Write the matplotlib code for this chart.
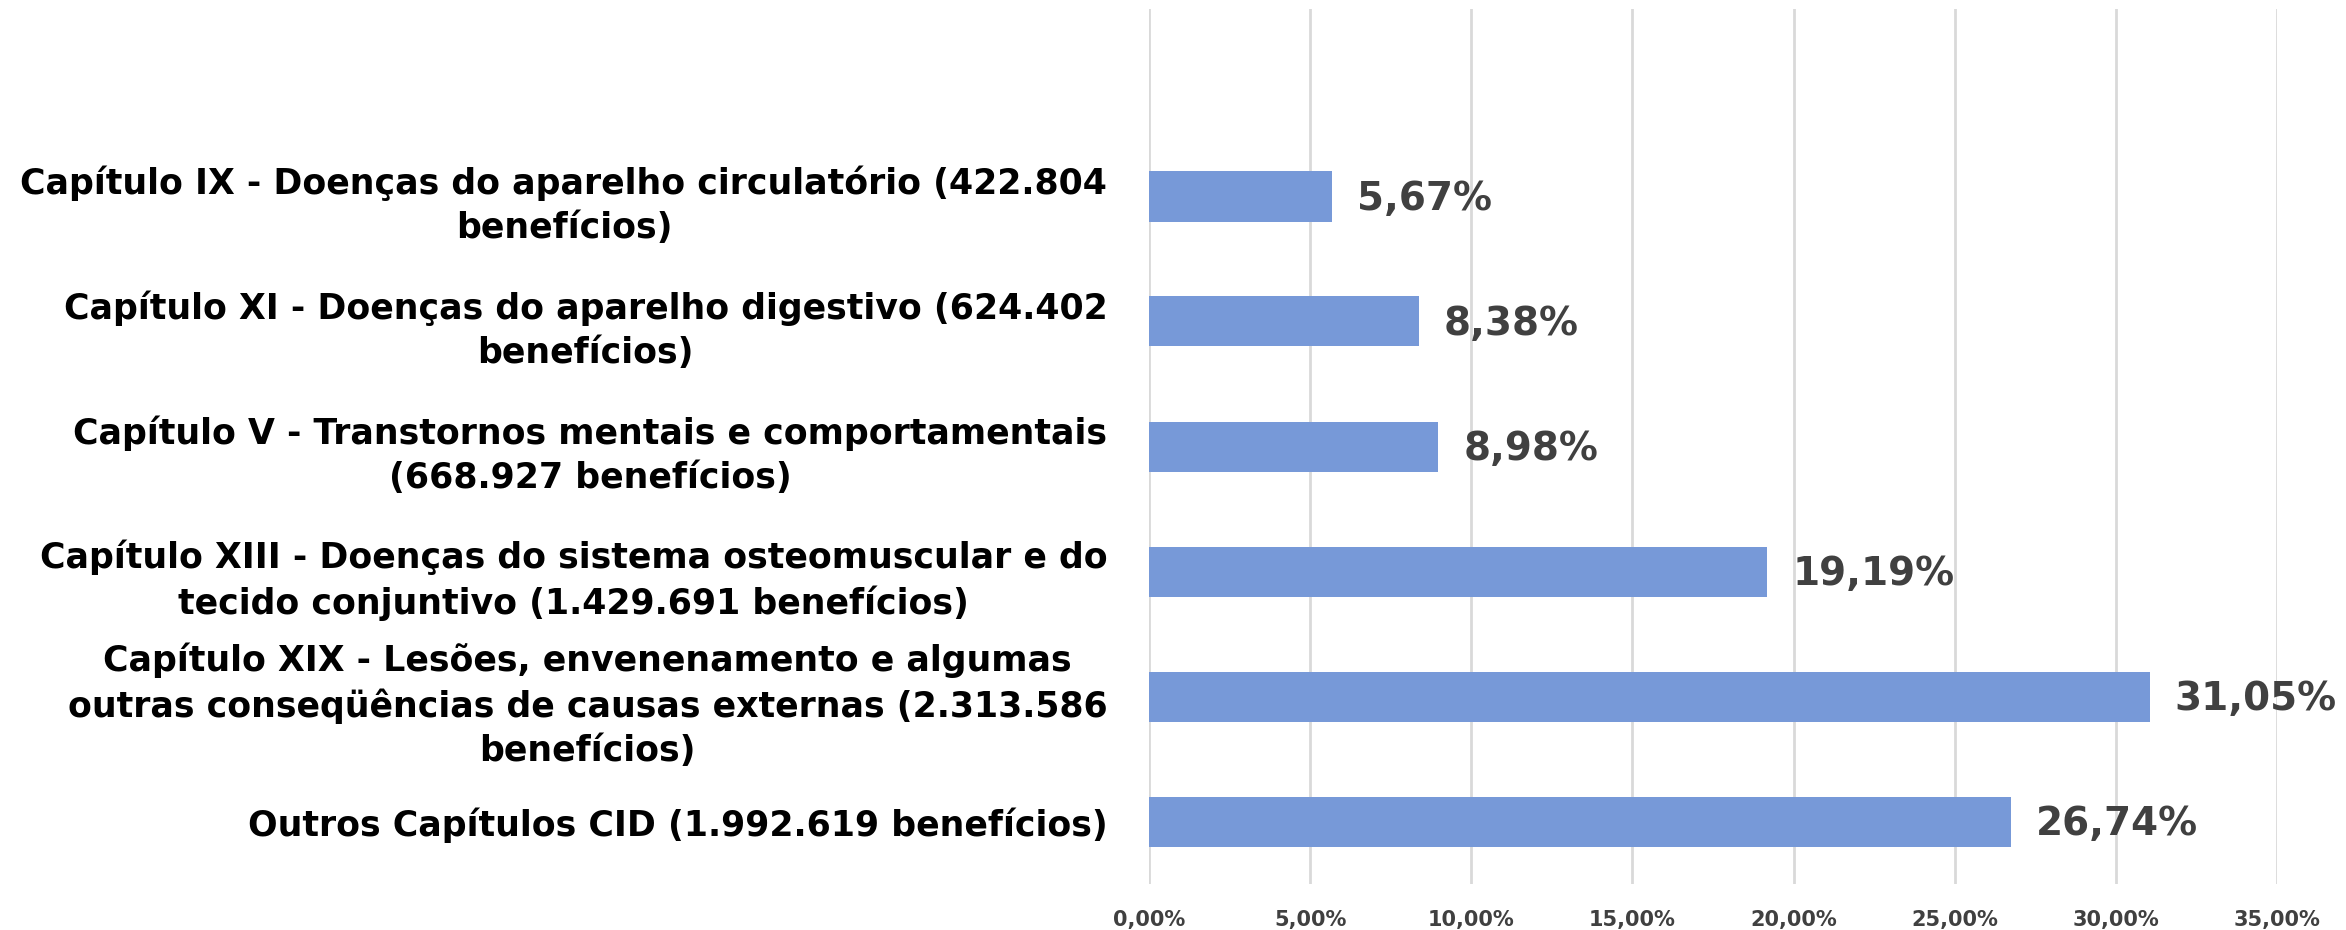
import matplotlib
matplotlib.use('Agg')
import matplotlib.pyplot as plt

categories = [
    'Outros Capítulos CID (1.992.619 benefícios)',
    'Capítulo XIX - Lesões, envenenamento e algumas\noutras conseqüências de causas externas (2.313.586\nbenefícios)',
    'Capítulo XIII - Doenças do sistema osteomuscular e do\ntecido conjuntivo (1.429.691 benefícios)',
    'Capítulo V - Transtornos mentais e comportamentais\n(668.927 benefícios)',
    'Capítulo XI - Doenças do aparelho digestivo (624.402\nbenefícios)',
    'Capítulo IX - Doenças do aparelho circulatório (422.804\nbenefícios)',
]
values = [26.74, 31.05, 19.19, 8.98, 8.38, 5.67]
xticks = [0, 5, 10, 15, 20, 25, 30, 35]

fig = plt.figure(figsize=(23.46, 9.3), dpi=100)
ax = fig.add_axes([1149 / 2346, 46 / 930, 1128 / 2346, 875 / 930])

pos = list(range(len(values)))
ax.barh(pos, values, height=0.4, color='#7799d8', zorder=3)

for p, v in zip(pos, values):
    ax.annotate(f'{v:.2f}%'.replace('.', ','), (v, p), xytext=(18, -2),
                textcoords='offset points', va='center', ha='left',
                fontsize=28, fontweight='bold', color='#404040',
                family='DejaVu Sans')

ax.set_xlim(0, 35)
ax.set_ylim(-0.5, 6.5)
ax.set_xticks(xticks)
ax.set_xticklabels([f'{t:.2f}%'.replace('.', ',') for t in xticks],
                   fontsize=15, fontweight='bold', color='#404040',
                   family='DejaVu Sans')
ax.set_yticks(pos)
ax.set_yticklabels(categories, fontsize=25, fontweight='bold', color='black',
                   family='DejaVu Sans', multialignment='center',
                   linespacing=1.38)
ax.tick_params(axis='x', length=0, pad=19)
ax.tick_params(axis='y', length=0, pad=30)
ax.grid(axis='x', color='#d9d9d9', linewidth=2, zorder=0)
for s in ax.spines.values():
    s.set_visible(False)

fig.savefig('out.png', dpi=100)
